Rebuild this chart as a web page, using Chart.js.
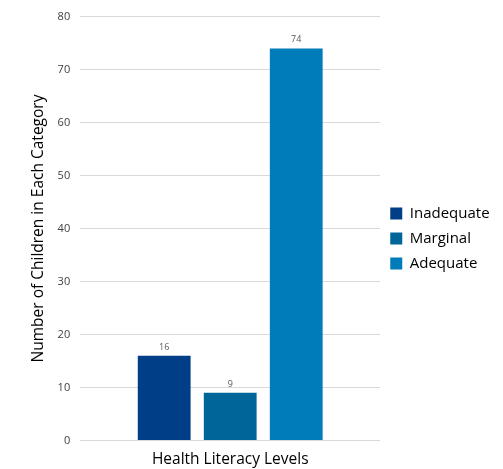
<!DOCTYPE html>
<html><head><meta charset="utf-8">
<script src="https://cdn.jsdelivr.net/npm/chart.js@4"></script>
<style>html,body{margin:0;padding:0;background:#fff}#wrap{width:503px;height:469px}</style>
</head><body><div id="wrap"><canvas id="c"></canvas></div>
<script>
const categories = ['Health Literacy Levels'];
const seriesNames = ['Inadequate', 'Marginal', 'Adequate'];
const inadequate = [16];
const marginal = [9];
const adequate = [74];
const colors = ['#003f87', '#00669a', '#007cba'];
const yTicks = [0, 10, 20, 30, 40, 50, 60, 70, 80];

const valueLabels = {
  id: 'valueLabels',
  afterDatasetsDraw(chart) {
    const ctx = chart.ctx;
    ctx.save();
    ctx.font = '9px "Open Sans"';
    ctx.fillStyle = '#595959';
    ctx.textAlign = 'center';
    ctx.textBaseline = 'bottom';
    chart.data.datasets.forEach((ds, i) => {
      chart.getDatasetMeta(i).data.forEach((bar, j) => {
        ctx.fillText(String(ds.data[j]), bar.x, bar.y - 4);
      });
    });
    ctx.restore();
  }
};

new Chart(document.getElementById('c'), {
  type: 'bar',
  data: {
    labels: categories,
    datasets: [
      { label: seriesNames[0], data: inadequate, backgroundColor: colors[0] },
      { label: seriesNames[1], data: marginal, backgroundColor: colors[1] },
      { label: seriesNames[2], data: adequate, backgroundColor: colors[2] }
    ]
  },
  options: {
    responsive: true,
    maintainAspectRatio: false,
    animation: false,
    devicePixelRatio: 1,
    categoryPercentage: 0.66,
    barPercentage: 0.8,
    layout: { padding: { top: 6, right: 4, left: 24, bottom: -2 } },
    plugins: {
      legend: {
        position: 'right',
        labels: {
          boxWidth: 12, boxHeight: 12, padding: 10,
          color: '#000', font: { family: 'Open Sans', size: 15 }
        }
      },
      tooltip: { enabled: false }
    },
    scales: {
      x: {
        grid: { display: false },
        border: { display: false },
        ticks: { color: '#000', padding: 2, font: { family: 'Open Sans', size: 15.5 } }
      },
      y: {
        min: 0, max: 80,
        afterBuildTicks(s) { s.ticks = yTicks.map(v => ({ value: v })); },
        grid: { color: '#d9d9d9', drawTicks: false },
        border: { display: false },
        ticks: { color: '#404040', padding: 10, font: { family: 'Open Sans', size: 11 } },
        title: { display: true, text: 'Number of Children in Each Category', color: '#000', padding: { top: 5, bottom: 0 }, font: { family: 'Open Sans', size: 15.5 } }
      }
    }
  },
  plugins: [valueLabels]
});
</script></body></html>
